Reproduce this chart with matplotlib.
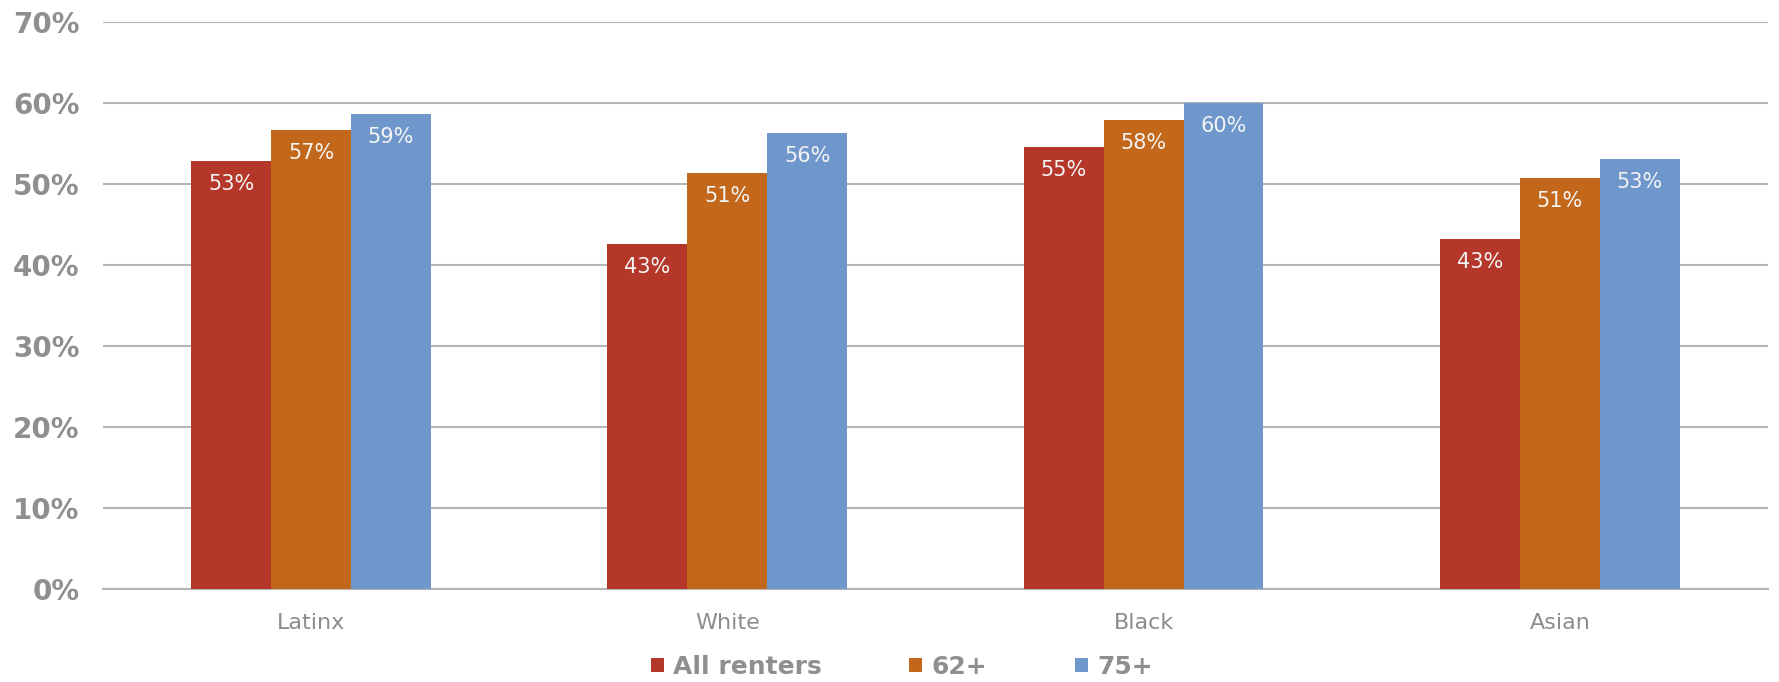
"""
Share of renters by race/ethnicity and age group - grouped bar chart.
"""

import numpy as np
import matplotlib.pyplot as plt
from matplotlib.patches import Patch

# Data
categories = ["Latinx", "White", "Black", "Asian"]
series_names = ["All renters", "62+", "75+"]
all_renters = [0.528, 0.426, 0.546, 0.432]
age_62 = [0.567, 0.513, 0.579, 0.507]
age_75 = [0.586, 0.563, 0.600, 0.531]
yticks = [0, 0.1, 0.2, 0.3, 0.4, 0.5, 0.6, 0.7]

COLORS = ["#B5372A", "#C3681B", "#6F97CC"]
GRID = "#B5B5B5"
TICK_GRAY = "#8F8F8F"
LABEL_GRAY = "#8C8C8C"


def main():
    fig = plt.figure(figsize=(17.79, 6.82), dpi=100)
    ax = fig.add_axes([0.0579, 0.1364, 0.9359, 0.8313])

    x = np.arange(len(categories))
    width = 0.192
    series = [all_renters, age_62, age_75]

    for i, vals in enumerate(series):
        pos = x + (i - 1) * width
        bars = ax.bar(pos, vals, width=width, color=COLORS[i], zorder=3)
        for b, v in zip(bars, vals):
            ax.annotate(
                "{:.0%}".format(v),
                (b.get_x() + b.get_width() / 2, v),
                xytext=(0, -23),
                textcoords="offset pixels",
                ha="center",
                va="center",
                fontsize=15,
                color="#F4F4F4",
                zorder=4,
            )

    ax.set_xlim(-0.5, 3.5)
    ax.set_ylim(0, 0.7)
    ax.set_yticks(yticks)
    ax.set_yticklabels(["{:.0%}".format(t) for t in yticks])
    ax.set_xticks(x)
    ax.set_xticklabels(categories)

    ax.yaxis.grid(True, color=GRID, linewidth=1.5, zorder=0)
    ax.set_axisbelow(True)
    for side in ["top", "right", "left"]:
        ax.spines[side].set_visible(False)
    ax.spines["bottom"].set_color(GRID)
    ax.spines["bottom"].set_linewidth(1.5)

    ax.tick_params(axis="y", length=0, pad=17, labelsize=20, labelcolor=TICK_GRAY)
    ax.tick_params(axis="x", length=0, pad=17, labelsize=16, labelcolor=LABEL_GRAY)
    for lbl in ax.get_yticklabels():
        lbl.set_fontweight("bold")

    handles = [Patch(facecolor=c, edgecolor="none") for c in COLORS]
    leg = fig.legend(
        handles,
        series_names,
        loc="center",
        bbox_to_anchor=(0.507, 0.022),
        ncol=3,
        frameon=False,
        borderpad=0,
        handlelength=0.52,
        handleheight=0.52,
        handletextpad=0.38,
        columnspacing=3.5,
        prop={"size": 18, "weight": "bold"},
    )
    for t in leg.get_texts():
        t.set_color(TICK_GRAY)

    fig.savefig("out.png", dpi=100)
    plt.close(fig)


if __name__ == "__main__":
    main()
